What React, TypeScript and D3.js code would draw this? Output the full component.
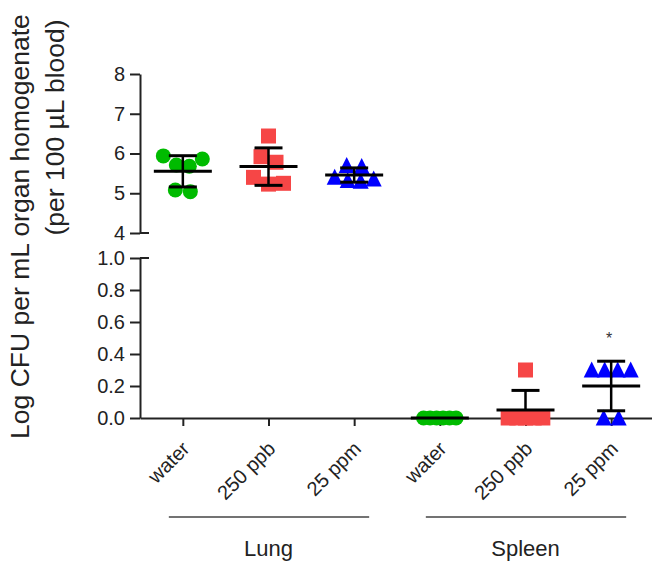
import React, { useEffect, useRef } from 'react';
import * as d3 from 'd3';

const W = 652;
const H = 562;
const font = 'Arial, "Liberation Sans", sans-serif';
const ink = '#222';

// categories
const organs = ['Lung', 'Spleen'];
const treatments = ['water', '250 ppb', '25 ppm'];
const colors = ['#00bb00', '#f64646', '#0000ff'];
const shapes = ['circle', 'square', 'triangle'];

// log CFU per mouse
const lungWater = [5.94, 5.86, 5.71, 5.68, 5.08, 5.04];
const lung250ppb = [6.44, 5.92, 5.78, 5.4, 5.25, 5.23];
const lung25ppm = [5.7, 5.67, 5.4, 5.36, 5.32, 5.3];
const spleenWater = [0, 0, 0, 0, 0, 0];
const spleen250ppb = [0.3, 0, 0, 0, 0, 0];
const spleen25ppm = [0.3, 0.3, 0.3, 0.3, 0, 0];

const topTicks = [4, 5, 6, 7, 8];
const bottomTicks = [0, 0.2, 0.4, 0.6, 0.8, 1.0];
const starred = ['Spleen|25 ppm'];

const series = [
  [lungWater, lung250ppb, lung25ppm],
  [spleenWater, spleen250ppb, spleen25ppm],
];

type Grp = { key: string; organ: number; t: number; values: number[] };

// rough GraphPad-style scatter: points in the same row get spread sideways
function swarm(values: number[], yS: (v: number) => number, cx: number) {
  const binH = 11;
  const pts = values.map((v) => ({ v, y: yS(v) })).sort((a, b) => a.y - b.y);
  const bins: { v: number; y: number }[][] = [];
  let cur: { v: number; y: number }[] = [];
  pts.forEach((p) => {
    if (cur.length && p.y - cur[0].y > binH) {
      bins.push(cur);
      cur = [];
    }
    cur.push(p);
  });
  if (cur.length) bins.push(cur);
  const out: { x: number; y: number }[] = [];
  bins.forEach((bin) => {
    const n = bin.length;
    const step = n > 1 ? (n > 2 ? Math.min(15, 26 / (n - 2)) : 15) : 0;
    const slots = d3.range(n).map((i) => (i - (n - 1) / 2) * step);
    const order: number[] = [];
    let lo = 0;
    let hi = n - 1;
    while (lo <= hi) {
      order.push(lo++);
      if (lo <= hi) order.push(hi--);
    }
    bin.forEach((p, i) => out.push({ x: cx + slots[order[i]], y: p.y }));
  });
  return out;
}

function draw(el: SVGSVGElement) {
  const svg = d3.select(el);
  svg.selectAll('*').remove();

  const groups: Grp[] = [];
  organs.forEach((o, oi) =>
    treatments.forEach((t, ti) =>
      groups.push({ key: o + '|' + t, organ: oi, t: ti, values: series[oi][ti] })
    )
  );

  const x = d3
    .scalePoint<string>()
    .domain(groups.map((g) => g.key))
    .range([140, 654])
    .padding(0.5);
  const yTop = d3.scaleLinear().domain([4, 8]).range([233, 74]);
  const yBot = d3.scaleLinear().domain([0, 1]).range([418, 258]);
  const yOf = (g: Grp) => (g.organ === 0 ? yTop : yBot);

  function styleAxis(g: d3.Selection<SVGGElement, unknown, null, undefined>) {
    g.attr('font-family', font).attr('font-size', 20);
    g.select('.domain').attr('stroke', ink).attr('stroke-width', 2);
    g.selectAll('.tick line').attr('stroke', ink).attr('stroke-width', 2);
    g.selectAll('.tick text').attr('fill', ink);
  }

  // y axes (broken)
  svg
    .append('g')
    .attr('transform', 'translate(140,0)')
    .call(
      d3
        .axisLeft(yTop)
        .tickValues(topTicks)
        .tickFormat(d3.format('d'))
        .tickSize(10)
        .tickSizeOuter(0)
        .tickPadding(5)
    )
    .call(styleAxis);
  svg
    .append('g')
    .attr('transform', 'translate(140,0)')
    .call(
      d3
        .axisLeft(yBot)
        .tickValues(bottomTicks)
        .tickFormat(d3.format('.1f'))
        .tickSize(10)
        .tickSizeOuter(0)
        .tickPadding(5)
    )
    .call(styleAxis);
  // break marks
  [yTop(4), yBot(1)].forEach((yy) =>
    svg
      .append('line')
      .attr('x1', 140)
      .attr('x2', 149)
      .attr('y1', yy)
      .attr('y2', yy)
      .attr('stroke', ink)
      .attr('stroke-width', 2)
  );

  // x axis
  svg
    .append('g')
    .attr('transform', `translate(0,${yBot(0)})`)
    .call(d3.axisBottom(x).tickSize(8).tickSizeOuter(0).tickFormat(() => ''))
    .call(styleAxis);

  groups.forEach((g) => {
    svg
      .append('text')
      .attr('transform', `translate(${(x(g.key) as number) + 8},450) rotate(-45)`)
      .attr('text-anchor', 'end')
      .attr('font-family', font)
      .attr('font-size', 20)
      .attr('fill', ink)
      .text(treatments[g.t]);
  });

  // organ brackets
  organs.forEach((o, oi) => {
    const keys = groups.filter((g) => g.organ === oi).map((g) => x(g.key) as number);
    const a = d3.min(keys) as number;
    const b = d3.max(keys) as number;
    svg
      .append('line')
      .attr('x1', a - 14)
      .attr('x2', b + 15)
      .attr('y1', 517)
      .attr('y2', 517)
      .attr('stroke', '#444')
      .attr('stroke-width', 1.5);
    svg
      .append('text')
      .attr('x', (a + b) / 2)
      .attr('y', 556)
      .attr('text-anchor', 'middle')
      .attr('font-family', font)
      .attr('font-size', 22)
      .attr('fill', ink)
      .text(o);
  });

  // y title
  svg
    .append('text')
    .attr('transform', 'translate(28.6,226.5) rotate(-90)')
    .attr('text-anchor', 'middle')
    .attr('font-family', font)
    .attr('font-size', 26.5)
    .attr('fill', ink)
    .text('Log CFU per mL organ homogenate');
  svg
    .append('text')
    .attr('transform', 'translate(64,127.5) rotate(-90)')
    .attr('text-anchor', 'middle')
    .attr('font-family', font)
    .attr('font-size', 26.5)
    .attr('fill', ink)
    .text('(per 100 \u00b5L blood)');

  // points
  const tri = 'M0,-8.5L8,7.5L-8,7.5Z';
  groups.forEach((g) => {
    const cx = x(g.key) as number;
    const pts = swarm(g.values, yOf(g), cx);
    const col = colors[g.t];
    const shape = shapes[g.t];
    const sel = svg.append('g').selectAll('.pt').data(pts).enter();
    if (shape === 'circle') {
      sel.append('circle').attr('cx', (d) => d.x).attr('cy', (d) => d.y).attr('r', 7.5).attr('fill', col);
    } else if (shape === 'square') {
      sel
        .append('rect')
        .attr('x', (d) => d.x - 7.5)
        .attr('y', (d) => d.y - 7.5)
        .attr('width', 15)
        .attr('height', 15)
        .attr('fill', col);
    } else {
      sel
        .append('path')
        .attr('d', tri)
        .attr('transform', (d) => `translate(${d.x},${d.y})`)
        .attr('fill', col);
    }
  });

  // mean +/- SD
  groups.forEach((g) => {
    const cx = x(g.key) as number;
    const y = yOf(g);
    const m = d3.mean(g.values) as number;
    const s = d3.deviation(g.values) || 0;
    const lo = y.domain()[0];
    const bars = svg.append('g').attr('stroke', '#000').attr('fill', 'none');
    if (s > 0) {
      const ends = [m + s];
      if (m - s >= lo) ends.push(m - s);
      ends.forEach((e) => {
        bars
          .append('line')
          .attr('x1', cx)
          .attr('x2', cx)
          .attr('y1', y(m))
          .attr('y2', y(e))
          .attr('stroke-width', 2.5);
        bars
          .append('line')
          .attr('x1', cx - 14)
          .attr('x2', cx + 14)
          .attr('y1', y(e))
          .attr('y2', y(e))
          .attr('stroke-width', 3);
      });
    }
    bars
      .append('line')
      .attr('x1', cx - 29)
      .attr('x2', cx + 29)
      .attr('y1', y(m))
      .attr('y2', y(m))
      .attr('stroke-width', 3);

    if (starred.includes(g.key)) {
      svg
        .append('text')
        .attr('x', cx - 2)
        .attr('y', y(m + s) - 17)
        .attr('text-anchor', 'middle')
        .attr('font-family', font)
        .attr('font-size', 16)
        .attr('fill', '#333')
        .text('*');
    }
  });
}

export default function App() {
  const ref = useRef<SVGSVGElement>(null);
  useEffect(() => {
    if (ref.current) draw(ref.current);
  }, []);
  return (
    <svg
      ref={ref}
      width={W}
      height={H}
      style={{ position: 'absolute', left: 0, top: 0, background: '#fff' }}
    />
  );
}
